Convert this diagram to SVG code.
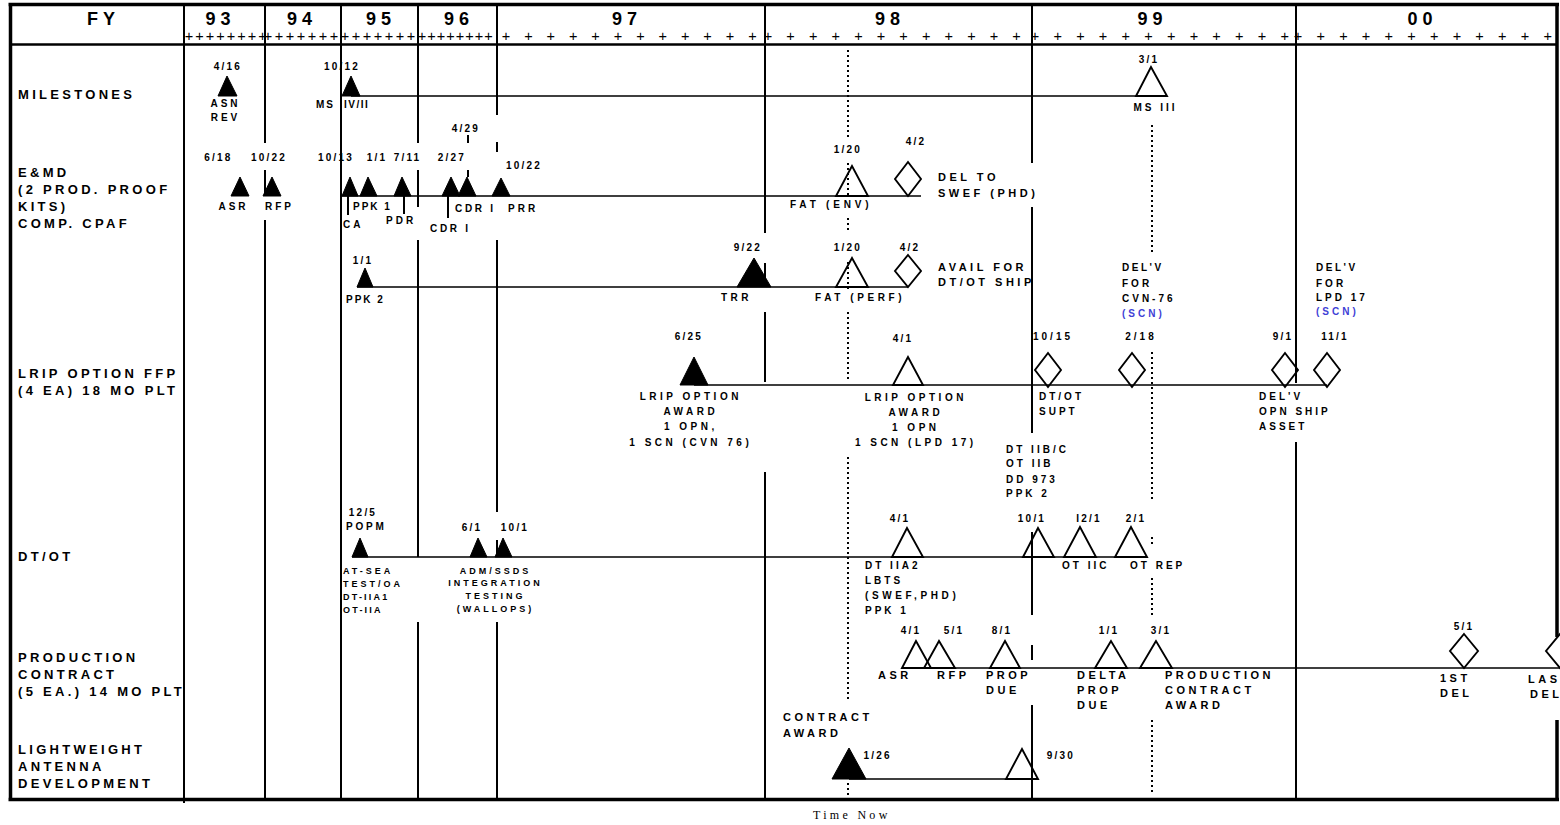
<svg xmlns="http://www.w3.org/2000/svg" width="1560" height="825" viewBox="0 0 1560 825">
<style>
text{font-family:"Liberation Sans",Arial,sans-serif;font-weight:bold;fill:#000}
.hd{font-size:18px;letter-spacing:5px;text-anchor:middle}
.rl{font-size:13px;letter-spacing:3.3px}
.s{font-size:10px;letter-spacing:3px}
.m{font-size:11px;letter-spacing:3.5px}
.d{font-size:10px;letter-spacing:2.2px;text-anchor:middle}
.t{font-size:9px;letter-spacing:3px}
.c{text-anchor:middle}
.tk{font-size:14.5px;font-weight:normal;text-anchor:middle}
.tn{font-family:"Liberation Serif","Times New Roman",serif;font-weight:normal;font-size:12px;letter-spacing:3.3px}
.blue{fill:#3f3fd6}
.grid{stroke:#000;stroke-width:2;fill:none}
.frame{stroke:#000;stroke-width:3.5;fill:none}
.bar{stroke:#000;stroke-width:1.6;fill:none}
.lead{stroke:#000;stroke-width:2;fill:none}
.dot{stroke:#000;stroke-width:2;stroke-dasharray:2 3;fill:none}
.f{fill:#000;stroke:#000;stroke-width:1}
.o{fill:none;stroke:#000;stroke-width:1.9}
</style>
<rect x="0" y="0" width="1560" height="825" fill="#fff"/>

<g id="frame">
<path class="frame" d="M8.5 4.5H1559M10.5 3V801M8.5 799.5H1559M1557 3V637M1557 720V801"/>
<path class="frame" style="stroke-width:2.5" d="M10 44.5H1557"/>
</g>

<g id="grid">
<path class="grid" d="M184 3V803M265 3V143M265 170V196M265 220V800M341 3V800M418 3V143M418 170V207M418 240V557M418 622V800M497 3V115M497 142V152M497 240V512M497 540V557M497 622V800M765 3V233M765 263V287M765 312V382M765 472V800M1032 3V163M1032 207V433M1032 532V615M1032 645V660M1032 705V800M1296 3V383M1296 442V800"/>
</g>

<g id="header">
<text class="hd" x="103.5" y="25">FY</text>
<text class="hd" x="220.5" y="25">93</text>
<text class="hd" x="302" y="25">94</text>
<text class="hd" x="381" y="25">95</text>
<text class="hd" x="459" y="25">96</text>
<text class="hd" x="627" y="25">97</text>
<text class="hd" x="890" y="25">98</text>
<text class="hd" x="1152.5" y="25">99</text>
<text class="hd" x="1422.5" y="25">00</text>
<text class="tk" x="189 199.5 210 220.5 231 241.5 252 262.5" y="40.5">++++++++</text>
<text class="tk" x="268 279 290 301 312 323 334" y="40.5">+++++++</text>
<text class="tk" x="345 356 367 378 389 400 411" y="40.5">+++++++</text>
<text class="tk" x="422 431.5 441 450.5 460 469.5 479 488.5" y="40.5">++++++++</text>
<text class="tk" x="506 528.4 550.8 573.2 595.6 618 640.4 662.8 685.2 707.6 730 752.4" y="40.5">++++++++++++</text>
<text class="tk" x="768 790.6 813.2 835.8 858.4 881 903.6 926.2 948.8 971.4 994 1016.6" y="40.5">++++++++++++</text>
<text class="tk" x="1035 1057.7 1080.4 1103.1 1125.8 1148.5 1171.2 1193.9 1216.6 1239.3 1262 1284.7" y="40.5">++++++++++++</text>
<text class="tk" x="1298 1320.7 1343.4 1366.1 1388.8 1411.5 1434.2 1456.9 1479.6 1502.3 1525 1547.7" y="40.5">++++++++++++</text>
</g>

<g id="row-labels">
<text class="rl" x="18" y="99">MILESTONES</text>
<text class="rl" x="18" y="177">E&amp;MD</text>
<text class="rl" x="18" y="194">(2 PROD. PROOF</text>
<text class="rl" x="18" y="211">KITS)</text>
<text class="rl" x="18" y="228">COMP. CPAF</text>
<text class="rl" x="18" y="377.5">LRIP OPTION FFP</text>
<text class="rl" x="18" y="394.5">(4 EA) 18 MO PLT</text>
<text class="rl" x="18" y="560.5">DT/OT</text>
<text class="rl" x="18" y="661.5">PRODUCTION</text>
<text class="rl" x="18" y="678.5">CONTRACT</text>
<text class="rl" x="18" y="696">(5 EA.) 14 MO PLT</text>
<text class="rl" x="18" y="753.5">LIGHTWEIGHT</text>
<text class="rl" x="18" y="770.5">ANTENNA</text>
<text class="rl" x="18" y="787.5">DEVELOPMENT</text>
</g>

<g id="connectors">
<path class="bar" d="M351 96H1151M342 196H921M357 287H908M694 385H1327M352 557H1147M902 668H1560M849 779H1022"/>
<path class="lead" d="M348 196V215M404 196V214M448 196V218M468 135V143M468 170V177"/>
</g>

<g id="time-now">
<path class="dot" d="M848 50V140M848 163V197M848 218V232M848 262V290M848 312V382M848 457V700M848 783V800"/>
<path class="dot" d="M1152 125V253M1152 352V502M1152 537V547M1152 578V615M1152 720V795"/>
<text class="tn" x="813" y="819">Time Now</text>
</g>

<g id="ms-asn-rev">
<polygon class="f" points="227,76 218,96 237,96"/>
<text class="d" x="228" y="70">4/16</text>
<text class="s c" x="225.5" y="107">ASN</text>
<text class="s c" x="225.5" y="120.5">REV</text>
</g>
<g id="ms-iv-ii">
<polygon class="f" points="351,76 342,96 360,96"/>
<text class="d" x="342" y="70">10/12</text>
<text class="s" x="316" y="107.5" style="letter-spacing:2px">MS</text>
<text class="s" x="344" y="107.5" style="letter-spacing:1.5px">IV/II</text>
</g>
<g id="ms-iii">
<polygon class="o" points="1151,67 1136,96 1167,96"/>
<text class="d" x="1149" y="62.5">3/1</text>
<text class="s c" x="1155.5" y="110.5">MS III</text>
</g>

<g id="emd-asr">
<polygon class="f" points="240,177 231,196 249,196"/>
<text class="d" x="218.5" y="161">6/18</text>
<text class="s c" x="233.5" y="209.5">ASR</text>
</g>
<g id="emd-rfp">
<polygon class="f" points="272,177 263,196 281,196"/>
<text class="d" x="269" y="161">10/22</text>
<text class="s c" x="279.5" y="209.5">RFP</text>
</g>
<g id="emd-ca">
<polygon class="f" points="350,177 342,196 358,196"/>
<text class="d" x="336" y="161">10/13</text>
<text class="s" x="343" y="227.5">CA</text>
</g>
<g id="emd-ppk1">
<polygon class="f" points="368,177 360,196 377,196"/>
<text class="d" x="377" y="161">1/1</text>
<text class="s" x="353" y="209.5" style="letter-spacing:2px">PPK 1</text>
</g>
<g id="emd-pdr">
<polygon class="f" points="402,177 394,196 411,196"/>
<text class="d" x="407.5" y="161">7/11</text>
<text class="s" x="386" y="223.5">PDR</text>
</g>
<g id="emd-cdr1a">
<polygon class="f" points="451,177 442,196 460,196"/>
<text class="d" x="452" y="161">2/27</text>
<text class="s" x="430" y="231.5" style="letter-spacing:2.7px">CDR I</text>
</g>
<g id="emd-cdr1b">
<polygon class="f" points="467,177 458,196 476,196"/>
<text class="d" x="466" y="132">4/29</text>
<text class="s" x="455" y="211.5" style="letter-spacing:2.7px">CDR I</text>
</g>
<g id="emd-prr">
<polygon class="f" points="501,178 492,196 510,196"/>
<text class="d" x="524" y="168.5">10/22</text>
<text class="s" x="508" y="211.5">PRR</text>
</g>
<g id="emd-fat-env">
<polygon class="o" points="852,166 836,196 868,196"/>
<text class="d" x="848" y="152.5">1/20</text>
<text class="s" x="790" y="207.5" style="letter-spacing:3.8px">FAT (ENV)</text>
</g>
<g id="emd-del-swef">
<polygon class="o" points="908,162 921,179 908,196 895,179"/>
<text class="d" x="916" y="144.5">4/2</text>
<text class="m" x="938" y="181">DEL TO</text>
<text class="m" x="938" y="197">SWEF (PHD)</text>
</g>

<g id="ppk2">
<polygon class="f" points="365,268 357,287 373,287"/>
<text class="d" x="363" y="263.5">1/1</text>
<text class="s" x="346" y="302.5" style="letter-spacing:2px">PPK 2</text>
</g>
<g id="ppk2-trr">
<polygon class="f" points="754,258 737,287 771,287"/>
<text class="d" x="748" y="250.5">9/22</text>
<text class="s" x="721" y="300.5" style="letter-spacing:3.5px">TRR</text>
</g>
<g id="ppk2-fat-perf">
<polygon class="o" points="852,258 836,287 868,287"/>
<text class="d" x="848" y="250.5">1/20</text>
<text class="s" x="815" y="300.5" style="letter-spacing:3.6px">FAT (PERF)</text>
</g>
<g id="ppk2-avail">
<polygon class="o" points="908,255 921,271 908,287 895,271"/>
<text class="d" x="910" y="250.5">4/2</text>
<text class="m" x="938" y="270.5">AVAIL FOR</text>
<text class="m" x="938" y="286">DT/OT SHIP</text>
</g>
<g id="delv-cvn76">
<text class="s" x="1122" y="270.5" style="letter-spacing:2.5px">DEL'V</text>
<text class="s" x="1122" y="286.5">FOR</text>
<text class="s" x="1122" y="301.5">CVN-76</text>
<text class="s blue" x="1122" y="316.5">(SCN)</text>
</g>
<g id="delv-lpd17">
<text class="s" x="1316" y="270.5" style="letter-spacing:2.5px">DEL'V</text>
<text class="s" x="1316" y="286.5">FOR</text>
<text class="s" x="1316" y="300.5">LPD 17</text>
<text class="s blue" x="1316" y="314.5">(SCN)</text>
</g>

<g id="lrip-cvn76">
<polygon class="f" points="694,357 680,385 708,385"/>
<text class="d" x="689" y="339.5">6/25</text>
<text class="s c" x="690.8" y="400.3" style="letter-spacing:3.5px">LRIP OPTION</text>
<text class="s c" x="690.8" y="415.3" style="letter-spacing:3.5px">AWARD</text>
<text class="s c" x="690.8" y="430.3" style="letter-spacing:3.5px">1 OPN,</text>
<text class="s c" x="690.8" y="445.6" style="letter-spacing:3.5px">1 SCN (CVN 76)</text>
</g>
<g id="lrip-lpd17">
<polygon class="o" points="908,357 893,385 923,385"/>
<text class="d" x="903" y="341.5">4/1</text>
<text class="s c" x="915.8" y="400.6" style="letter-spacing:3.5px">LRIP OPTION</text>
<text class="s c" x="915.8" y="415.6" style="letter-spacing:3.5px">AWARD</text>
<text class="s c" x="915.8" y="430.6" style="letter-spacing:3.5px">1 OPN</text>
<text class="s c" x="915.8" y="445.6" style="letter-spacing:3.5px">1 SCN (LPD 17)</text>
</g>
<g id="lrip-dtot-supt">
<polygon class="o" points="1048,353 1061,370 1048,387 1035,370"/>
<text class="d" x="1053" y="339.5" style="letter-spacing:3px">10/15</text>
<text class="s" x="1039" y="399.6">DT/OT</text>
<text class="s" x="1039" y="414.6">SUPT</text>
</g>
<g id="lrip-2-18">
<polygon class="o" points="1132,353 1145,370 1132,387 1119,370"/>
<text class="d" x="1141" y="339.5" style="letter-spacing:3px">2/18</text>
</g>
<g id="lrip-opn-ship">
<polygon class="o" points="1285,353 1298,370 1285,387 1272,370"/>
<text class="d" x="1283" y="339.5">9/1</text>
<text class="s" x="1259" y="400.3">DEL'V</text>
<text class="s" x="1259" y="415.3">OPN SHIP</text>
<text class="s" x="1259" y="430.3">ASSET</text>
</g>
<g id="lrip-11-1">
<polygon class="o" points="1327,353 1340,370 1327,387 1314,370"/>
<text class="d" x="1335" y="339.5">11/1</text>
</g>
<g id="dt-iib-note">
<text class="s" x="1006" y="452.6">DT IIB/C</text>
<text class="s" x="1006" y="467">OT IIB</text>
<text class="s" x="1006" y="482.6">DD 973</text>
<text class="s" x="1006" y="497">PPK 2</text>
</g>

<g id="dtot-popm">
<polygon class="f" points="360,538 352,557 368,557"/>
<text class="d" x="363" y="515.5">12/5</text>
<text class="s" x="346" y="529.5" style="letter-spacing:2.8px">POPM</text>
<text class="t" x="343" y="573.5">AT-SEA</text>
<text class="t" x="343" y="586.5">TEST/OA</text>
<text class="t" x="343" y="599.5" style="letter-spacing:2.2px">DT-IIA1</text>
<text class="t" x="343" y="612.5" style="letter-spacing:2.2px">OT-IIA</text>
</g>
<g id="dtot-adm">
<polygon class="f" points="478,538 470,557 487,557"/>
<polygon class="f" points="503,538 495,557 512,557"/>
<text class="d" x="472" y="530.5">6/1</text>
<text class="d" x="515" y="530.5">10/1</text>
<text class="t c" x="495.5" y="573.5">ADM/SSDS</text>
<text class="t c" x="495.5" y="586">INTEGRATION</text>
<text class="t c" x="495.5" y="598.5">TESTING</text>
<text class="t c" x="495.5" y="611.5">(WALLOPS)</text>
</g>
<g id="dtot-iia2">
<polygon class="o" points="907,528 892,557 923,557"/>
<text class="d" x="900" y="521.5">4/1</text>
<text class="s" x="865" y="568.5">DT IIA2</text>
<text class="s" x="865" y="583.5">LBTS</text>
<text class="s" x="865" y="598.5" style="letter-spacing:3.6px">(SWEF,PHD)</text>
<text class="s" x="865" y="613.5">PPK 1</text>
</g>
<g id="dtot-10-1">
<polygon class="o" points="1038,528 1023,557 1054,557"/>
<text class="d" x="1032" y="521.5">10/1</text>
</g>
<g id="dtot-otiic">
<polygon class="o" points="1080,527 1064,557 1096,557"/>
<text class="d" x="1089" y="521.5">I2/1</text>
<text class="s" x="1062" y="568.5">OT IIC</text>
</g>
<g id="dtot-otrep">
<polygon class="o" points="1131,527 1115,557 1147,557"/>
<text class="d" x="1136" y="521.5">2/1</text>
<text class="s" x="1130" y="568.5">OT REP</text>
</g>

<g id="prod-asr">
<polygon class="o" points="916,641 902,668 931,668"/>
<text class="d" x="911" y="633.5">4/1</text>
<text class="m" x="878" y="679">ASR</text>
</g>
<g id="prod-rfp">
<polygon class="o" points="939,641 924,668 955,668"/>
<text class="d" x="954" y="633.5">5/1</text>
<text class="m" x="937" y="679">RFP</text>
</g>
<g id="prod-prop-due">
<polygon class="o" points="1005,641 990,668 1020,668"/>
<text class="d" x="1002" y="633.5">8/1</text>
<text class="m" x="986" y="679">PROP</text>
<text class="m" x="986" y="694">DUE</text>
</g>
<g id="prod-delta">
<polygon class="o" points="1111,641 1095,668 1127,668"/>
<text class="d" x="1109" y="633.5">1/1</text>
<text class="m" x="1077" y="679">DELTA</text>
<text class="m" x="1077" y="694">PROP</text>
<text class="m" x="1077" y="709">DUE</text>
</g>
<g id="prod-award">
<polygon class="o" points="1156,641 1140,668 1172,668"/>
<text class="d" x="1161" y="633.5">3/1</text>
<text class="m" x="1165" y="679">PRODUCTION</text>
<text class="m" x="1165" y="694">CONTRACT</text>
<text class="m" x="1165" y="709">AWARD</text>
</g>
<g id="prod-1st-del">
<polygon class="o" points="1464,634 1478,651 1464,668 1450,651"/>
<text class="d" x="1464" y="629.5">5/1</text>
<text class="m" x="1440" y="682">1ST</text>
<text class="m" x="1440" y="697">DEL</text>
</g>
<g id="prod-last-del">
<polygon class="o" points="1560,634 1574,651 1560,668 1546,651"/>
<text class="m" x="1528" y="683">LAST</text>
<text class="m" x="1530" y="698">DEL</text>
</g>

<g id="lwa-award">
<polygon class="f" points="849,748 832,779 866,779"/>
<text class="m" x="783" y="721">CONTRACT</text>
<text class="m" x="783" y="737">AWARD</text>
<text class="d" x="877.6" y="758.5">1/26</text>
</g>
<g id="lwa-9-30">
<polygon class="o" points="1022,749 1006,779 1038,779"/>
<text class="d" x="1061" y="758.5">9/30</text>
</g>
</svg>
